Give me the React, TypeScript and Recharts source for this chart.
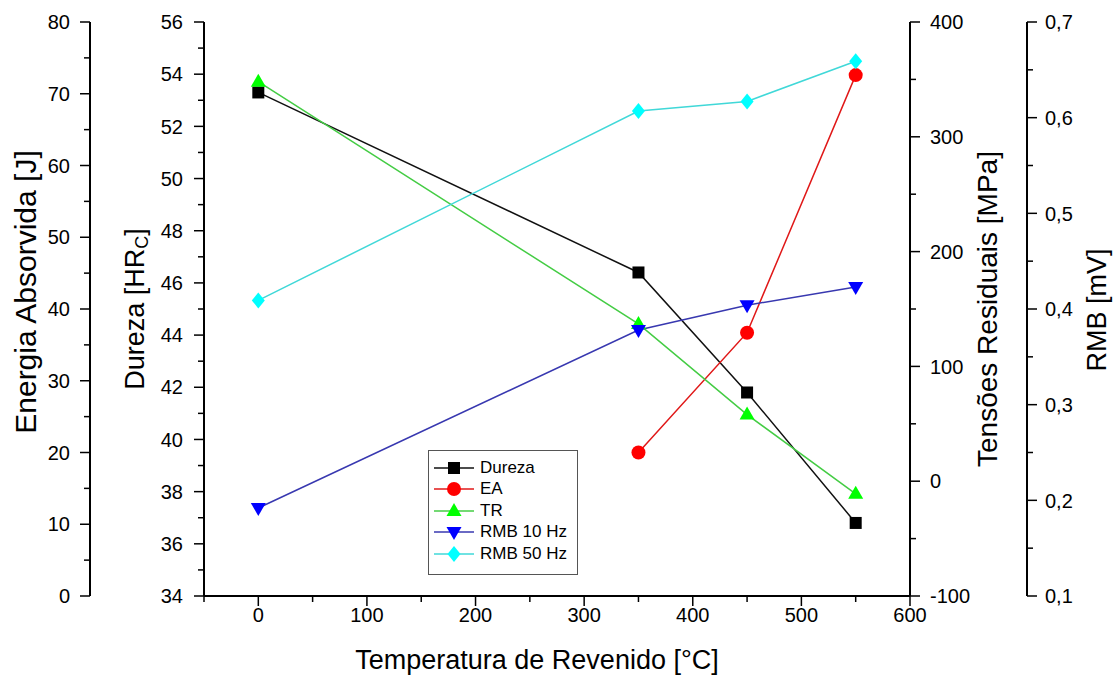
import React from "react";
import { LineChart, Line, XAxis, YAxis, Legend } from "recharts";

// values
const temperatures = [0, 350, 450, 550];
const dureza = [53.3, 46.4, 41.8, 36.8];
const energia = [null, 20.0, 36.7, 72.6];
const tensoes = [348, 137, 58, -11];
const rmb10 = [0.192, 0.378, 0.404, 0.423];
const rmb50 = [0.409, 0.607, 0.617, 0.659];

const xTicks = [-50, 0, 50, 100, 150, 200, 250, 300, 350, 400, 450, 500, 550, 600];
const durezaTicks = [34, 35, 36, 37, 38, 39, 40, 41, 42, 43, 44, 45, 46, 47, 48, 49, 50, 51, 52, 53, 54, 55, 56];
const energiaTicks = [0, 5, 10, 15, 20, 25, 30, 35, 40, 45, 50, 55, 60, 65, 70, 75, 80];
const tensoesTicks = [-100, -50, 0, 50, 100, 150, 200, 250, 300, 350, 400];
const rmbTicks = [0.1, 0.15, 0.2, 0.25, 0.3, 0.35, 0.4, 0.45, 0.5, 0.55, 0.6, 0.65, 0.7];

const FONT = "'Liberation Sans', Arial, Helvetica, sans-serif";

const data = temperatures.map((t, i) => ({
  t,
  dureza: dureza[i],
  ea: energia[i],
  tr: tensoes[i],
  rmb10: rmb10[i],
  rmb50: rmb50[i],
}));

type Shape = "square" | "circle" | "up" | "down" | "diamond";

// axis ids are ordered so that the first one on each side sits next to the plot
const series: {
  key: string;
  name: string;
  axis: string;
  line: string;
  fill: string;
  shape: Shape;
}[] = [
  { key: "dureza", name: "Dureza", axis: "a_dureza", line: "#111111", fill: "#000000", shape: "square" },
  { key: "ea", name: "EA", axis: "b_energia", line: "#e01818", fill: "#ff0000", shape: "circle" },
  { key: "tr", name: "TR", axis: "a_tensoes", line: "#44cc44", fill: "#00ff00", shape: "up" },
  { key: "rmb10", name: "RMB 10 Hz", axis: "b_rmb", line: "#3838b0", fill: "#0000ff", shape: "down" },
  { key: "rmb50", name: "RMB 50 Hz", axis: "b_rmb", line: "#40d8d8", fill: "#00ffff", shape: "diamond" },
];

function Marker({ shape, cx, cy, fill }: { shape: Shape; cx: number; cy: number; fill: string }) {
  switch (shape) {
    case "square":
      return <rect x={cx - 6} y={cy - 6} width={12} height={12} fill={fill} />;
    case "circle":
      return <circle cx={cx} cy={cy} r={7} fill={fill} />;
    case "up":
      return <polygon points={`${cx},${cy - 8} ${cx + 7.5},${cy + 5} ${cx - 7.5},${cy + 5}`} fill={fill} />;
    case "down":
      return <polygon points={`${cx},${cy + 8} ${cx + 7.5},${cy - 5} ${cx - 7.5},${cy - 5}`} fill={fill} />;
    default:
      return <polygon points={`${cx},${cy - 8} ${cx + 6.5},${cy} ${cx},${cy + 8} ${cx - 6.5},${cy}`} fill={fill} />;
  }
}

const tickText = { fontFamily: FONT, fontSize: 20, fill: "#000" };

function makeTick(
  side: "left" | "right" | "bottom",
  isMajor: (v: number) => boolean,
  fmt: (v: number) => string,
  gap: number
) {
  return (props: any) => {
    const { x, y, payload } = props;
    const v = payload.value as number;
    const major = isMajor(v);
    const len = major ? 10 : 6;
    if (side === "bottom") {
      return (
        <g>
          <line x1={x} x2={x} y1={y} y2={y + len} stroke="#000" strokeWidth={1.5} />
          {major && (
            <text x={x} y={y + gap} dy="0.36em" textAnchor="middle" {...tickText}>
              {fmt(v)}
            </text>
          )}
        </g>
      );
    }
    const dir = side === "left" ? -1 : 1;
    return (
      <g>
        <line x1={x} x2={x + dir * len} y1={y} y2={y} stroke="#000" strokeWidth={1.5} />
        {major && (
          <text
            x={x + dir * gap}
            y={y}
            dy="0.36em"
            textAnchor={side === "left" ? "end" : "start"}
            {...tickText}
          >
            {fmt(v)}
          </text>
        )}
      </g>
    );
  };
}

const near = (a: number, b: number) => Math.abs(a - b) < 1e-6;

// tx/ty instead of x/y: Recharts passes its own x/y to label content
function AxisTitle({
  tx,
  ty,
  size = 27,
  vertical = true,
  children,
}: {
  tx: number;
  ty: number;
  size?: number;
  vertical?: boolean;
  children?: React.ReactNode;
}) {
  return (
    <text
      x={tx}
      y={ty}
      transform={vertical ? `rotate(-90 ${tx} ${ty})` : undefined}
      textAnchor="middle"
      dominantBaseline="central"
      fontFamily={FONT}
      fontSize={size}
      fill="#000"
    >
      {children}
    </text>
  );
}

function LegendBox() {
  return (
    <div
      style={{
        border: "1px solid #555",
        background: "#fff",
        padding: "6px 4px 9px 4px",
        width: 150,
        boxSizing: "border-box",
        fontFamily: FONT,
        fontSize: 17,
        color: "#000",
      }}
    >
      {series.map((s) => (
        <div key={s.key} style={{ display: "flex", alignItems: "center", height: 21.5 }}>
          <svg width={44} height={20} style={{ display: "block" }}>
            <line x1={1} x2={41} y1={10} y2={10} stroke={s.line} strokeWidth={1.5} />
            <Marker shape={s.shape} cx={21} cy={10} fill={s.fill} />
          </svg>
          <span style={{ marginLeft: 3, lineHeight: "20px" }}>{s.name}</span>
        </div>
      ))}
    </div>
  );
}

const axisLine = { stroke: "#000", strokeWidth: 2 };

export default function App() {
  return (
    <div style={{ position: "absolute", left: 0, top: 0, width: 1115, height: 682, background: "#fff" }}>
      <LineChart width={1115} height={682} data={data} margin={{ top: 22, right: 0, bottom: 0, left: 0 }}>
        <XAxis
          dataKey="t"
          type="number"
          domain={[-50, 600]}
          ticks={xTicks}
          interval={0}
          height={86}
          tickSize={0}
          tickMargin={0}
          tickLine={false}
          axisLine={axisLine}
          tick={makeTick("bottom", (v) => v % 100 === 0, (v) => String(v), 19)}
          label={
            <AxisTitle tx={537} ty={660} vertical={false}>
              Temperatura de Revenido [°C]
            </AxisTitle>
          }
        />
        <YAxis
          yAxisId="a_dureza"
          orientation="left"
          type="number"
          domain={[34, 56]}
          ticks={durezaTicks}
          interval={0}
          width={114}
          tickSize={0}
          tickMargin={0}
          tickLine={false}
          axisLine={axisLine}
          tick={makeTick("left", (v) => v % 2 === 0, (v) => String(v), 21)}
          label={
            <AxisTitle tx={135} ty={309}>
              Dureza [HR
              <tspan dy={7} fontSize={18}>
                C
              </tspan>
              <tspan dy={-7}>]</tspan>
            </AxisTitle>
          }
        />
        <YAxis
          yAxisId="b_energia"
          orientation="left"
          type="number"
          domain={[0, 80]}
          ticks={energiaTicks}
          interval={0}
          width={90}
          tickSize={0}
          tickMargin={0}
          tickLine={false}
          axisLine={axisLine}
          tick={makeTick("left", (v) => v % 10 === 0, (v) => String(v), 20)}
          label={
            <AxisTitle tx={25} ty={292} size={30}>
              Energia Absorvida [J]
            </AxisTitle>
          }
        />
        <YAxis
          yAxisId="a_tensoes"
          orientation="right"
          type="number"
          domain={[-100, 400]}
          ticks={tensoesTicks}
          interval={0}
          width={117}
          tickSize={0}
          tickMargin={0}
          tickLine={false}
          axisLine={axisLine}
          tick={makeTick("right", (v) => v % 100 === 0, (v) => String(v), 20)}
          label={
            <AxisTitle tx={987} ty={309} size={28}>
              Tensões Residuais [MPa]
            </AxisTitle>
          }
        />
        <YAxis
          yAxisId="b_rmb"
          orientation="right"
          type="number"
          domain={[0.1, 0.7]}
          ticks={rmbTicks}
          interval={0}
          width={88}
          tickSize={0}
          tickMargin={0}
          tickLine={false}
          axisLine={axisLine}
          tick={makeTick(
            "right",
            (v) => near(v * 10, Math.round(v * 10)),
            (v) => v.toFixed(1).replace(".", ","),
            18
          )}
          label={
            <AxisTitle tx={1097} ty={310}>
              RMB [mV]
            </AxisTitle>
          }
        />
        <Legend
          layout="vertical"
          align="center"
          verticalAlign="middle"
          wrapperStyle={{ left: 428, top: 450, width: 150 }}
          content={() => <LegendBox />}
        />
        {series.map((s) => (
          <Line
            key={s.key}
            yAxisId={s.axis}
            dataKey={s.key}
            name={s.name}
            type="linear"
            stroke={s.line}
            strokeWidth={1.5}
            isAnimationActive={false}
            activeDot={false}
            dot={(p: any) =>
              p.cy == null || p.value == null ? (
                <g key={`${s.key}-${p.index}`} />
              ) : (
                <Marker key={`${s.key}-${p.index}`} shape={s.shape} cx={p.cx} cy={p.cy} fill={s.fill} />
              )
            }
          />
        ))}
      </LineChart>
    </div>
  );
}
